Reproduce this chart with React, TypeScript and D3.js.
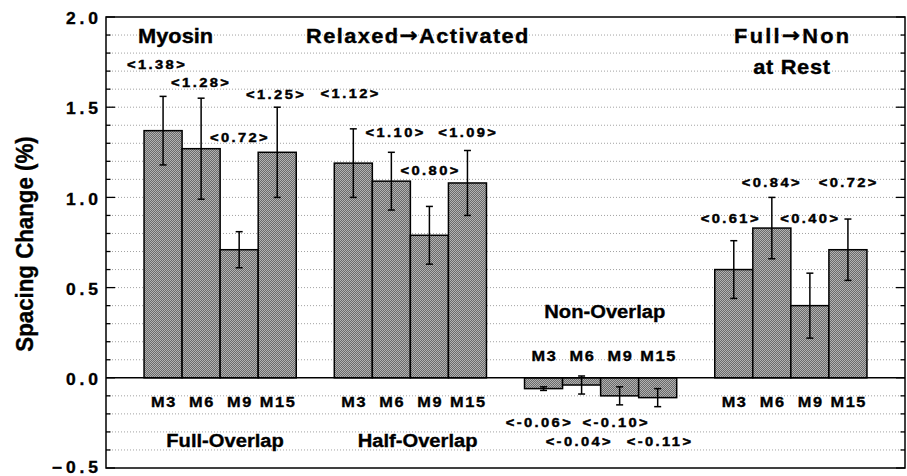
import * as d3 from 'd3'

const categories = ['M3', 'M6', 'M9', 'M15']
const groupNames = ['Full-Overlap', 'Half-Overlap', 'Non-Overlap']

// bar heights (%)
const fullOverlap = [1.37, 1.27, 0.71, 1.25]
const halfOverlap = [1.19, 1.09, 0.79, 1.08]
const nonOverlap = [-0.06, -0.04, -0.1, -0.11]
const fullToNon = [0.6, 0.83, 0.4, 0.71]

// error bars (+/-)
const fullOverlapErr = [0.19, 0.28, 0.1, 0.25]
const halfOverlapErr = [0.19, 0.16, 0.16, 0.18]
const nonOverlapErr = [0.01, 0.05, 0.05, 0.05]
const fullToNonErr = [0.16, 0.17, 0.18, 0.17]

// numbers printed in <...>
const fullOverlapNote = [1.38, 1.28, 0.72, 1.25]
const halfOverlapNote = [1.12, 1.1, 0.8, 1.09]
const nonOverlapNote = [-0.06, -0.04, -0.1, -0.11]
const fullToNonNote = [0.61, 0.84, 0.4, 0.72]

const yTicks = [-0.5, 0, 0.5, 1, 1.5, 2]

const series = [
  { values: fullOverlap, err: fullOverlapErr, notes: fullOverlapNote },
  { values: halfOverlap, err: halfOverlapErr, notes: halfOverlapNote },
  { values: nonOverlap, err: nonOverlapErr, notes: nonOverlapNote },
  { values: fullToNon, err: fullToNonErr, notes: fullToNonNote },
]

// where the <..> notes sit: [offset within bar slot, y in data units]
const notePos = [
  [[0.31, 1.738], [0.47, 1.64], [0.49, 1.336], [0.44, 1.573]],
  [[0.4, 1.58], [0.58, 1.364], [0.5, 1.152], [0.49, 1.364]],
  [[0.36, -0.247], [0.41, -0.354], [0.38, -0.247], [0.53, -0.354]],
  [[0.39, 0.885], [0.47, 1.083], [0.48, 0.885], [0.49, 1.083]],
]
const catLabelY = [-0.133, -0.133, 0.125, -0.133]
const groupLabelPos = [[3.13, -0.345], [8.19, -0.345], [13.11, 0.37]]

const W = 907
const H = 476
const left = 106, right = 905, top = 17, bottom = 468
const SX = 1.09 // the lettering in the figure is a little wide
const FONT = '"Liberation Sans", Arial, Helvetica, sans-serif'
const ARROW_FONT = '"DejaVu Sans", sans-serif'

export default function App() {
  const x = d3.scaleLinear().domain([0, 21]).range([left, right])
  const y = d3.scaleLinear().domain([-0.5, 2.0]).range([bottom, top])
  const slot = (g: number, i: number) => g * 5 + 1 + i
  const bw = x(1) - x(0)

  const minor = d3.range(-5, 21).map(i => i / 10)
  const grid = minor.filter(v => v > -0.5 && v < 2 && Math.abs(v) > 1e-9)

  const txt = (
    key: string, tx: number, ty: number, s: any, size: number,
    opts: { ls?: number, anchor?: string, len?: number, sw?: number } = {}
  ) => {
    const ls = opts.ls ?? 0
    const anchor = opts.anchor ?? 'middle'
    const shift = anchor === 'middle' ? ls / 2 : anchor === 'end' ? ls : 0
    return (
      <text
        key={key}
        transform={`translate(${tx + shift * SX},${ty}) scale(${SX},1)`}
        textAnchor={anchor}
        dominantBaseline="central"
        fontSize={size}
        fontWeight="bold"
        letterSpacing={ls}
        stroke="#000"
        strokeWidth={opts.sw ?? 0.35}
        textLength={opts.len}
        lengthAdjust={opts.len ? 'spacing' : undefined}
      >{s}</text>
    )
  }

  const arrow = <tspan fontFamily={ARROW_FONT} fontWeight="bold">→</tspan>

  return (
    <svg width={W} height={H} style={{ position: 'absolute', left: 0, top: 0, background: '#fff' }}
      fontFamily={FONT}>
      <defs>
        <pattern id="dots" width="2" height="2" patternUnits="userSpaceOnUse">
          <rect width="2" height="2" fill="#6a6a6a" />
          <rect x="0" y="0" width="1" height="1" fill="#b2b2b2" />
          <rect x="1" y="1" width="1" height="1" fill="#b2b2b2" />
        </pattern>
      </defs>

      {/* dotted grid */}
      {grid.map(v => (
        <line key={'g' + v} x1={left} x2={right} y1={y(v)} y2={y(v)}
          stroke="#8a8a8a" strokeWidth={0.8} strokeDasharray="1 2" />
      ))}

      {/* bars */}
      {series.map((s, g) => s.values.map((v, i) => {
        const x0 = x(slot(g, i))
        return (
          <rect key={`b${g}-${i}`} x={x0} width={bw}
            y={Math.min(y(v), y(0))} height={Math.abs(y(v) - y(0))}
            fill="url(#dots)" stroke="#000" strokeWidth={1.5} />
        )
      }))}

      {/* error bars */}
      {series.map((s, g) => s.values.map((v, i) => {
        const cx = x(slot(g, i) + 0.5)
        const hi = y(v + s.err[i]), lo = y(v - s.err[i])
        return (
          <g key={`e${g}-${i}`} stroke="#000" strokeWidth={1.5}>
            <line x1={cx} x2={cx} y1={hi} y2={lo} />
            <line x1={cx - 3.5} x2={cx + 3.5} y1={hi} y2={hi} />
            <line x1={cx - 3.5} x2={cx + 3.5} y1={lo} y2={lo} />
          </g>
        )
      }))}

      {/* zero line */}
      <line x1={left} x2={right} y1={y(0)} y2={y(0)} stroke="#000" strokeWidth={1.5} />

      {/* frame + ticks */}
      <rect x={left} y={top} width={right - left} height={bottom - top}
        fill="none" stroke="#000" strokeWidth={1.5} />
      {minor.map((v, k) => {
        const major = Math.abs(v * 2 - Math.round(v * 2)) < 1e-9
        const len = major ? 9 : 4.5
        return (
          <g key={'t' + k} stroke="#000" strokeWidth={1.3}>
            <line x1={left} x2={left + len} y1={y(v)} y2={y(v)} />
            <line x1={right} x2={right - len} y1={y(v)} y2={y(v)} />
          </g>
        )
      })}
      {yTicks.map(v => txt('yl' + v, 98, y(v) + (v < 0 ? 0 : 2), d3.format('.1f')(v), 16, { ls: 3.6, anchor: 'end' }))}

      <text transform={`translate(33,244) scale(${SX},1) rotate(-90)`} textAnchor="middle"
        fontSize={22.3} fontWeight="bold" stroke="#000" strokeWidth={0.35}>Spacing Change (%)</text>

      {/* category labels */}
      {series.map((s, g) => categories.map((c, i) =>
        txt(`c${g}-${i}`, x(slot(g, i) + 0.5), y(catLabelY[g]), c, 15, { ls: 1.5 })
      ))}

      {/* value notes */}
      {series.map((s, g) => s.notes.map((n, i) =>
        txt(`n${g}-${i}`, x(slot(g, i) + notePos[g][i][0]), y(notePos[g][i][1]),
          `<${n.toFixed(2)}>`, 13.5, { ls: 2.2, sw: 0.45 })
      ))}

      {/* group names */}
      {groupNames.map((name, g) =>
        txt('gn' + g, x(groupLabelPos[g][0]), y(groupLabelPos[g][1]), name, 18.5)
      )}

      {/* headings */}
      {txt('h1', x(1.83), y(1.897), 'Myosin', 20)}
      {txt('h2', x(8.18), y(1.897), <>Relaxed{arrow}Activated</>, 20, { len: 204 })}
      {txt('h3', x(18.02), y(1.897), <>Full{arrow}Non</>, 20, { len: 105.5 })}
      {txt('h4', x(18.02), y(1.726), 'at Rest', 20, { ls: 0.6 })}
    </svg>
  )
}
